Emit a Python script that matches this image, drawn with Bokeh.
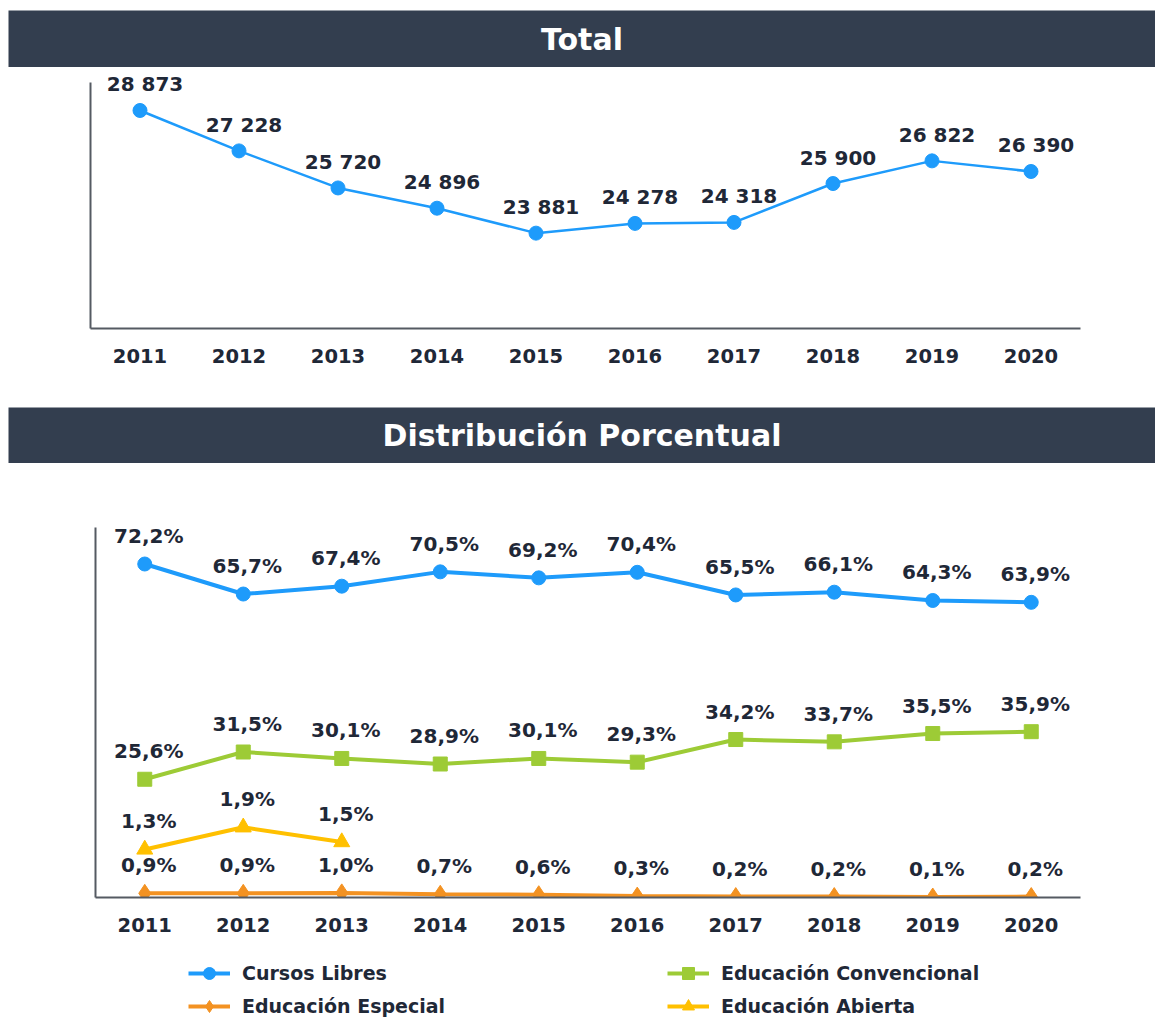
from bokeh.plotting import figure
from bokeh.layouts import column
from bokeh.models import Range1d, FactorRange, Label, Legend, LegendItem
from bokeh.core.properties import value
from bokeh.embed import file_html
from bokeh.resources import INLINE

# ---------------- data ----------------
years = ["2011", "2012", "2013", "2014", "2015", "2016", "2017", "2018", "2019", "2020"]
total = [28873, 27228, 25720, 24896, 23881, 24278, 24318, 25900, 26822, 26390]

cursos_libres = [72.2, 65.7, 67.4, 70.5, 69.2, 70.4, 65.5, 66.1, 64.3, 63.9]
educ_convencional = [25.6, 31.5, 30.1, 28.9, 30.1, 29.3, 34.2, 33.7, 35.5, 35.9]
educ_especial = [0.9, 0.9, 1.0, 0.7, 0.6, 0.3, 0.2, 0.2, 0.1, 0.2]
abierta_years = ["2011", "2012", "2013"]
educ_abierta = [1.3, 1.9, 1.5]

title_total = "Total"
title_dist = "Distribución Porcentual"
series_names = ["Cursos Libres", "Educación Convencional", "Educación Especial", "Educación Abierta"]

# ---------------- style ----------------
W = 1155
HEADER = "#333e4f"
TXT = "#1f2837"
BLUE = "#1e9bfb"
GREEN = "#9dcb36"
ORANGE = "#f39222"
YELLOW = "#ffc000"
AXIS = "#555a62"
FONT = "DejaVu Sans"


def fmt_int(v):
    return f"{v:,}".replace(",", " ")


def fmt_pct(v):
    return f"{v:.1f}%".replace(".", ",")


def bare(height, top=0, left=0, xr=None, yr=None):
    f = figure(width=W, height=height, x_range=xr or Range1d(0, 1), y_range=yr or Range1d(0, 1),
               x_axis_type=None, y_axis_type=None, toolbar_location=None,
               output_backend="svg", min_border=0, min_border_top=top,
               min_border_left=left, min_border_right=0, min_border_bottom=0)
    f.frame_align = False
    f.grid.visible = False
    f.outline_line_color = None
    f.border_fill_color = "white"
    return f


def header(text, height, top):
    f = bare(height, top, left=8)
    f.background_fill_color = HEADER
    f.add_layout(Label(x=0.5, y=0.5, text=text, text_align="center", text_baseline="middle",
                       text_color="white", text_font=FONT, text_font_style="bold",
                       text_font_size="30px"))
    return f


def style_axes(p, bounds):
    p.frame_align = False
    p.grid.visible = False
    p.outline_line_color = None
    for ax in (p.xaxis[0], p.yaxis[0]):
        ax.axis_line_color = AXIS
        ax.axis_line_width = 2
        ax.major_tick_line_color = None
        ax.minor_tick_line_color = None
        ax.major_tick_in = 0
        ax.major_tick_out = 0
    p.yaxis.bounds = bounds
    p.yaxis.major_label_text_font_size = "0px"
    p.yaxis.ticker = []
    p.xaxis.major_label_standoff = 20
    p.xaxis.major_label_text_font = FONT
    p.xaxis.major_label_text_font_style = "bold"
    p.xaxis.major_label_text_font_size = "19.5px"
    p.xaxis.major_label_text_color = TXT


# ---------------- header 1 ----------------
h1 = header(title_total, 67, 10)

# ---------------- top chart ----------------
p1 = figure(width=W, height=340, x_range=FactorRange(*years), y_range=Range1d(20000, 30500),
            toolbar_location=None, output_backend="svg",
            min_border_left=90, min_border_right=75, min_border_top=3, min_border_bottom=79)
style_axes(p1, (20000, 30000))
p1.line(years, total, line_color=BLUE, line_width=2.5)
p1.scatter(years, total, marker="circle", size=14, fill_color=BLUE, line_color=BLUE)
p1.text(x=years, y=total, text=[fmt_int(v) for v in total], x_offset=5, y_offset=-26,
        text_align="center", text_baseline="middle", text_color=TXT,
        text_font=value(FONT), text_font_style="bold", text_font_size="20px")

# ---------------- header 2 ----------------
h2 = header(title_dist, 56, 0)

# ---------------- bottom chart ----------------
p2 = figure(width=W, height=482, x_range=FactorRange(*years), y_range=Range1d(0, 84),
            toolbar_location=None, output_backend="svg",
            min_border_left=95, min_border_right=75, min_border_top=46, min_border_bottom=48)
p2.extra_y_ranges = {"abierta": Range1d(0, 10.5)}
style_axes(p2, (0, 80))

lw = 4
p2.line(years, cursos_libres, line_color=BLUE, line_width=lw)
p2.scatter(years, cursos_libres, marker="circle", size=14, fill_color=BLUE, line_color=BLUE)
p2.line(years, educ_convencional, line_color=GREEN, line_width=lw)
p2.scatter(years, educ_convencional, marker="square", size=14, fill_color=GREEN, line_color=GREEN)
p2.line(years, educ_especial, line_color=ORANGE, line_width=lw)
p2.scatter(years, educ_especial, marker="diamond", size=18, fill_color=ORANGE, line_color=ORANGE)
p2.line(abierta_years, educ_abierta, line_color=YELLOW, line_width=lw, y_range_name="abierta")
p2.scatter(abierta_years, educ_abierta, marker="triangle", size=16, fill_color=YELLOW,
           line_color=YELLOW, y_range_name="abierta")

lbl_kw = dict(text_align="center", text_baseline="middle", text_color=TXT,
              text_font=value(FONT), text_font_style="bold", text_font_size="20px",
              x_offset=4, y_offset=-28)
p2.text(x=years, y=cursos_libres, text=[fmt_pct(v) for v in cursos_libres], **lbl_kw)
p2.text(x=years, y=educ_convencional, text=[fmt_pct(v) for v in educ_convencional], **lbl_kw)
p2.text(x=years, y=educ_especial, text=[fmt_pct(v) for v in educ_especial], **lbl_kw)
p2.text(x=abierta_years, y=educ_abierta, text=[fmt_pct(v) for v in educ_abierta],
        y_range_name="abierta", **lbl_kw)

# ---------------- legend strip (same series, plotted out of view) ----------------
p3 = bare(74, xr=FactorRange(*years), yr=Range1d(1000, 1001))
p3.background_fill_color = "white"
r_cl = [p3.line(years, cursos_libres, line_color=BLUE, line_width=lw),
        p3.scatter(years, cursos_libres, marker="circle", size=14, fill_color=BLUE, line_color=BLUE)]
r_ec = [p3.line(years, educ_convencional, line_color=GREEN, line_width=lw),
        p3.scatter(years, educ_convencional, marker="square", size=14, fill_color=GREEN, line_color=GREEN)]
r_ee = [p3.line(years, educ_especial, line_color=ORANGE, line_width=lw),
        p3.scatter(years, educ_especial, marker="diamond", size=18, fill_color=ORANGE, line_color=ORANGE)]
r_ea = [p3.line(abierta_years, educ_abierta, line_color=YELLOW, line_width=lw),
        p3.scatter(abierta_years, educ_abierta, marker="triangle", size=16, fill_color=YELLOW,
                   line_color=YELLOW)]

legend = Legend(items=[
    LegendItem(label=series_names[0], renderers=r_cl),
    LegendItem(label=series_names[1], renderers=r_ec),
    LegendItem(label=series_names[2], renderers=r_ee),
    LegendItem(label=series_names[3], renderers=r_ea),
], location=(188, -2), orientation="horizontal", ncols=2,
    glyph_width=42, glyph_height=30, label_standoff=12, label_width=422, label_height=30,
    spacing=3, padding=0, margin=0, border_line_color=None, background_fill_alpha=0,
    label_text_font=FONT, label_text_font_style="bold", label_text_font_size="19px",
    label_text_color=TXT)
p3.add_layout(legend)

layout = column(h1, p1, h2, p2, p3, spacing=0)
open("out.html", "w").write(file_html(layout, INLINE))
